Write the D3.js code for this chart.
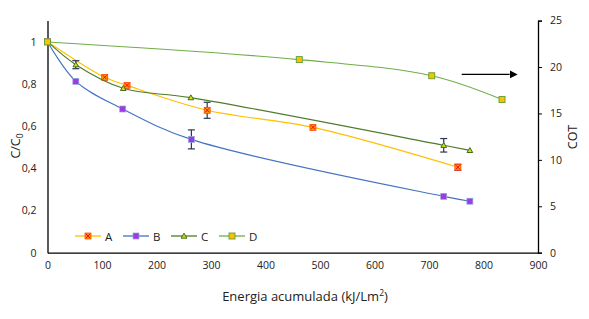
<!DOCTYPE html>
<html>
<head>
<meta charset="utf-8">
<script src="https://cdn.jsdelivr.net/npm/d3@7"></script>
<style>
  body { margin: 0; background: #fff; }
  svg text { font-family: "Open Sans", "Noto Sans", sans-serif; fill: #222; }
</style>
</head>
<body>
<div id="chart"></div>
<script>
// data
var energyA = [0, 105, 146, 293, 487, 753];
var valuesA = [1, 0.831, 0.793, 0.675, 0.594, 0.405];
var errA = [0, 0, 0, 0.038, 0, 0.014];

var energyB = [0, 52, 138, 264, 727, 775];
var valuesB = [1, 0.812, 0.681, 0.537, 0.267, 0.244];
var errB = [0, 0, 0, 0.045, 0, 0];

var energyC = [0, 52, 139, 263, 727, 775];
var valuesC = [1, 0.891, 0.779, 0.735, 0.509, 0.485];
var errC = [0, 0.019, 0, 0, 0.032, 0];

var energyD = [0, 462, 705, 834];
var cotD = [22.7, 20.8, 19.06, 16.5];

var xTicks = [0, 100, 200, 300, 400, 500, 600, 700, 800, 900];
var yLeftTicks = [0, 0.2, 0.4, 0.6, 0.8, 1];
var yRightTicks = [0, 5, 10, 15, 20, 25];
var seriesNames = ["A", "B", "C", "D"];

var width = 589, height = 319;
var margin = { top: 20.6, right: 51, bottom: 66.3, left: 47.5 };

var svg = d3.select("#chart").append("svg")
    .attr("width", width)
    .attr("height", height);

var x = d3.scaleLinear().domain([0, 900]).range([margin.left, width - margin.right]);
var yL = d3.scaleLinear().domain([0, 1.1]).range([height - margin.bottom, margin.top]);
var yR = d3.scaleLinear().domain([0, 25]).range([height - margin.bottom, margin.top]);

var fmt = function (d) { return d3.format("")(d).replace(".", ","); };

// axes
var gx = svg.append("g")
    .attr("transform", "translate(0," + yL(0) + ")")
    .call(d3.axisBottom(x).tickValues(xTicks).tickSize(0).tickPadding(9).tickFormat(fmt));
gx.select(".domain").attr("stroke", "#000").attr("stroke-width", 1.3);

var gyl = svg.append("g")
    .attr("transform", "translate(" + x(0) + ",0)")
    .call(d3.axisLeft(yL).tickValues(yLeftTicks).tickSize(0).tickPadding(11).tickFormat(fmt));
gyl.select(".domain").attr("stroke", "#000").attr("stroke-width", 1.3);

var gyr = svg.append("g")
    .attr("transform", "translate(" + x(900) + ",0)")
    .call(d3.axisRight(yR).tickValues(yRightTicks).tickSizeInner(4).tickSizeOuter(4).tickPadding(8));
gyr.select(".domain").attr("stroke", "#000").attr("stroke-width", 1.3);
gyr.selectAll(".tick line").attr("stroke", "#000");

svg.selectAll(".tick text").style("font-size", "10.5px").attr("fill", "#222");

// axis titles
var xt = svg.append("text")
    .attr("x", 305).attr("y", 301)
    .attr("text-anchor", "middle")
    .style("font-size", "13px");
xt.append("tspan").text("Energia acumulada (kJ/Lm");
xt.append("tspan").attr("dy", -5).style("font-size", "8.5px").text("2");
xt.append("tspan").attr("dy", 5).text(")");

var yt = svg.append("text")
    .attr("transform", "translate(20,146) rotate(-90)")
    .attr("text-anchor", "middle")
    .style("font-size", "12.5px");
yt.append("tspan").text("C/C");
yt.append("tspan").attr("dy", 3).style("font-size", "8.5px").text("0");

svg.append("text")
    .attr("transform", "translate(577,137) rotate(-90)")
    .attr("text-anchor", "middle")
    .style("font-size", "12.5px")
    .text("COT");

var line = function (ys) {
    return d3.line()
        .x(function (d) { return x(d[0]); })
        .y(function (d) { return ys(d[1]); })
        .curve(d3.curveCatmullRom.alpha(0.5));
};

var series = [
    { name: "A", xs: energyA, ys: valuesA, err: errA, axis: yL, color: "#FFC000", marker: "cross" },
    { name: "B", xs: energyB, ys: valuesB, err: errB, axis: yL, color: "#4472C4", marker: "purple" },
    { name: "C", xs: energyC, ys: valuesC, err: errC, axis: yL, color: "#4E7A2B", marker: "tri" },
    { name: "D", xs: energyD, ys: cotD, err: null, axis: yR, color: "#70AD47", marker: "gold" }
];

function drawMarker(g, type, cx, cy) {
    if (type === "cross") {
        g.append("rect").attr("x", cx - 3).attr("y", cy - 3).attr("width", 6).attr("height", 6)
            .attr("fill", "#FF9900").attr("stroke", "#FF3300").attr("stroke-width", 0.7);
        g.append("path").attr("d", "M" + (cx - 2) + "," + (cy - 2) + "L" + (cx + 2) + "," + (cy + 2) +
            "M" + (cx + 2) + "," + (cy - 2) + "L" + (cx - 2) + "," + (cy + 2))
            .attr("stroke", "#FF0000").attr("stroke-width", 1);
    } else if (type === "purple") {
        g.append("rect").attr("x", cx - 3).attr("y", cy - 3).attr("width", 6).attr("height", 6)
            .attr("fill", "#9B3BE0").attr("stroke", "#8FA8E0").attr("stroke-width", 0.7);
    } else if (type === "tri") {
        g.append("path").attr("d", d3.symbol(d3.symbolTriangle, 14)())
            .attr("transform", "translate(" + cx + "," + (cy + 0.5) + ")")
            .attr("fill", "#D4E000").attr("stroke", "#3E6B22").attr("stroke-width", 1);
    } else {
        g.append("rect").attr("x", cx - 3).attr("y", cy - 3).attr("width", 6).attr("height", 6)
            .attr("fill", "#FFC000").attr("stroke", "#5E9E36").attr("stroke-width", 0.9);
    }
}

var errColor = "#2A3552";

series.forEach(function (s) {
    var pts = s.xs.map(function (v, i) { return [v, s.ys[i]]; });
    svg.append("path")
        .datum(pts)
        .attr("fill", "none")
        .attr("stroke", s.color)
        .attr("stroke-width", 1.1)
        .attr("d", line(s.axis));

    if (s.err) {
        pts.forEach(function (p, i) {
            var e = s.err[i];
            if (!e) return;
            var cx = x(p[0]), y1 = s.axis(p[1] + e), y2 = s.axis(p[1] - e);
            var eg = svg.append("g").attr("stroke", errColor).attr("stroke-width", 1.2);
            eg.append("line").attr("x1", cx).attr("x2", cx).attr("y1", y1).attr("y2", y2);
            eg.append("line").attr("x1", cx - 3.5).attr("x2", cx + 3.5).attr("y1", y1).attr("y2", y1);
            eg.append("line").attr("x1", cx - 3.5).attr("x2", cx + 3.5).attr("y1", y2).attr("y2", y2);
        });
    }

    var mg = svg.append("g");
    pts.forEach(function (p) {
        drawMarker(mg, s.marker, x(p[0]), s.axis(p[1]));
    });
});

// arrow pointing to the secondary axis
svg.append("defs").append("marker")
    .attr("id", "arrowhead")
    .attr("viewBox", "0 0 10 10")
    .attr("refX", 0).attr("refY", 5)
    .attr("markerWidth", 8).attr("markerHeight", 8)
    .attr("markerUnits", "userSpaceOnUse")
    .attr("orient", "auto")
    .append("path").attr("d", "M0,0L10,5L0,10Z").attr("fill", "#000");

svg.append("line")
    .attr("x1", x(760)).attr("x2", x(848))
    .attr("y1", yR(19.2)).attr("y2", yR(19.2))
    .attr("stroke", "#000").attr("stroke-width", 1.2)
    .attr("marker-end", "url(#arrowhead)");

// legend
var legend = svg.append("g").attr("transform", "translate(75,236)");
seriesNames.forEach(function (name, i) {
    var s = series[i];
    var lg = legend.append("g").attr("transform", "translate(" + (i * 48) + ",0)");
    lg.append("line").attr("x1", 0).attr("x2", 26).attr("y1", 0).attr("y2", 0)
        .attr("stroke", s.color).attr("stroke-width", 1.3);
    drawMarker(lg, s.marker, 13, 0);
    lg.append("text").attr("x", 30).attr("y", 4.5).style("font-size", "11.5px").text(name);
});
</script>
</body>
</html>
